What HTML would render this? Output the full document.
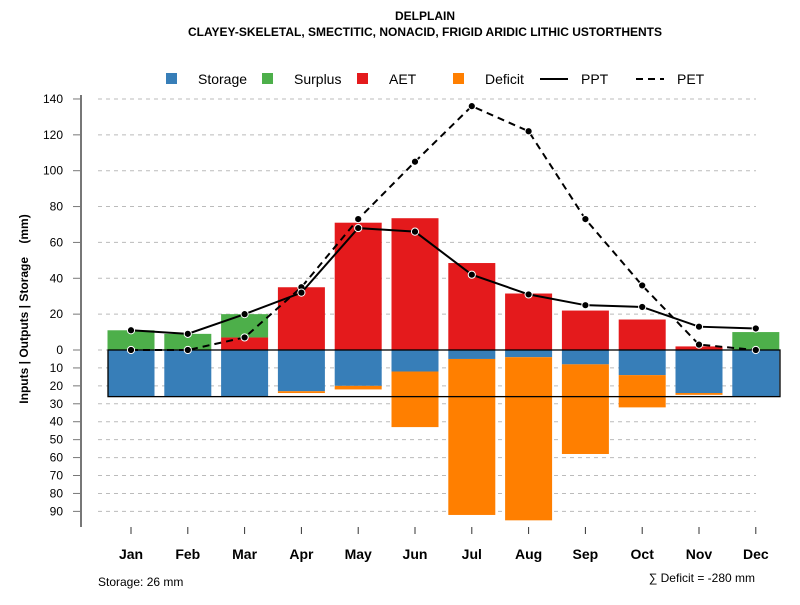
<!DOCTYPE html>
<html><head><meta charset="utf-8"><style>
body{margin:0;background:#fff;font-family:"Liberation Sans",sans-serif}
</style></head><body>
<svg width="800" height="600" xmlns="http://www.w3.org/2000/svg" font-family="Liberation Sans, sans-serif">
<text x="425" y="20" text-anchor="middle" font-size="12" font-weight="bold">DELPLAIN</text>
<text x="425" y="36" text-anchor="middle" font-size="12" font-weight="bold">CLAYEY-SKELETAL, SMECTITIC, NONACID, FRIGID ARIDIC LITHIC USTORTHENTS</text>
<g id="grid"></g><g id="bars"></g><g id="lines"></g><g id="axes"></g>
<g font-size="14">
<rect x="166" y="73" width="11" height="11" fill="#377eb8"/><text x="198" y="84">Storage</text>
<rect x="262" y="73" width="11" height="11" fill="#4daf4a"/><text x="294" y="84">Surplus</text>
<rect x="357" y="73" width="11" height="11" fill="#e41a1c"/><text x="389" y="84">AET</text>
<rect x="453" y="73" width="11" height="11" fill="#ff7f00"/><text x="485" y="84">Deficit</text>
<line x1="540" y1="79" x2="568" y2="79" stroke="#000" stroke-width="2"/><text x="581" y="84">PPT</text>
<line x1="636" y1="79" x2="664" y2="79" stroke="#000" stroke-width="2" stroke-dasharray="7,5"/><text x="677" y="84">PET</text>
</g>
<text x="28" y="309" transform="rotate(-90 28 309)" text-anchor="middle" font-size="12" font-weight="bold">Inputs | Outputs | Storage&#160;&#160;&#160;&#160;(mm)</text>
<text x="98" y="586" font-size="12">Storage: 26 mm</text>
<text x="755" y="582" text-anchor="end" font-size="12">∑ Deficit = -280 mm</text>
</svg>
<script>
const months=["Jan","Feb","Mar","Apr","May","Jun","Jul","Aug","Sep","Oct","Nov","Dec"];
const surplus=[11,9,13,0,0,0,0,0,0,0,0,10];
const aet=[0,0,7,35,71,73.5,48.5,31.5,22,17,2,0];
const storageLoss=[26,26,26,23,20,12,5,4,8,14,24,26];
const deficit=[0,0,0,1,2,31,87,91,50,18,1,0];
const ppt=[11,9,20,32,68,66,42,31,25,24,13,12];
const pet=[0,0,7,35,73,105,136,122,73,36,3,0];
const upTicks=[0,20,40,60,80,100,120,140];
const downTicks=[10,20,30,40,50,60,70,80,90];
const storageMax=26;
const NS="http://www.w3.org/2000/svg";
const y0=350,k=1.793;
const yUp=v=>y0-v*k, yDn=v=>y0+v*k;
const xc=i=>131+i*56.8, bw=47;
function mk(parent,tag,attrs){const e=document.createElementNS(NS,tag);for(const a in attrs)e.setAttribute(a,attrs[a]);document.getElementById(parent).appendChild(e);return e;}
upTicks.forEach(t=>{
 let g=mk("grid","line",{x1:98,x2:756,y1:yUp(t),y2:yUp(t),stroke:"#bbb","stroke-dasharray":"4,4"});
 
 
 let tk=mk("axes","line",{x1:73,x2:81,y1:yUp(t),y2:yUp(t),stroke:"#777"});
 
 
 let tx=mk("axes","text",{x:63,y:yUp(t)+4,"text-anchor":"end","font-size":"12"});tx.textContent=t;
 
 
});
downTicks.forEach(t=>{
 let g=mk("grid","line",{x1:98,x2:756,y1:yDn(t),y2:yDn(t),stroke:"#bbb","stroke-dasharray":"4,4"});
 
 
 let tk=mk("axes","line",{x1:73,x2:81,y1:yDn(t),y2:yDn(t),stroke:"#777"});
 
 
 let tx=mk("axes","text",{x:63,y:yDn(t)+4,"text-anchor":"end","font-size":"12"});tx.textContent=t;
 
 
});
let ax=mk("axes","line",{x1:81,x2:81,y1:95,y2:527,stroke:"#777","stroke-width":2});


months.forEach((m,i)=>{
 const x=xc(i)-bw/2;
 if(aet[i]>0){let r=mk("bars","rect",{x:x,width:bw,y:yUp(aet[i]),height:aet[i]*k,fill:"#e41a1c"});
  
  }
 if(surplus[i]>0){let r=mk("bars","rect",{x:x,width:bw,y:yUp(aet[i]+surplus[i]),height:surplus[i]*k,fill:"#4daf4a"});
  
  }
 let s=mk("bars","rect",{x:x,width:bw,y:y0,height:storageLoss[i]*k,fill:"#377eb8"});
 
 
 if(deficit[i]>0){let r=mk("bars","rect",{x:x,width:bw,y:yDn(storageLoss[i]),height:deficit[i]*k,fill:"#ff7f00"});
  
  }
 let tk=mk("axes","line",{x1:xc(i),x2:xc(i),y1:527,y2:534,stroke:"#333"});
 
 
 let tx=mk("axes","text",{x:xc(i),y:559,"text-anchor":"middle","font-size":"14","font-weight":"bold"});tx.textContent=m;
 
 
});
let box=mk("bars","rect",{x:108,y:y0,width:672,height:storageMax*k,fill:"none",stroke:"#000","stroke-width":1.3});


function series(arr,name,dash){
 let p=mk("lines","polyline",{points:arr.map((v,i)=>xc(i)+","+yUp(v)).join(" "),fill:"none",stroke:"#000","stroke-width":2,"stroke-dasharray":dash});
 
 
 arr.forEach((v,i)=>{let c=mk("lines","circle",{cx:xc(i),cy:yUp(v),r:3.6,fill:"#000",stroke:"#fff","stroke-width":1});
  
  });
}
series(pet,"pet","7,5");
series(ppt,"ppt","none");
</script>
</body></html>
